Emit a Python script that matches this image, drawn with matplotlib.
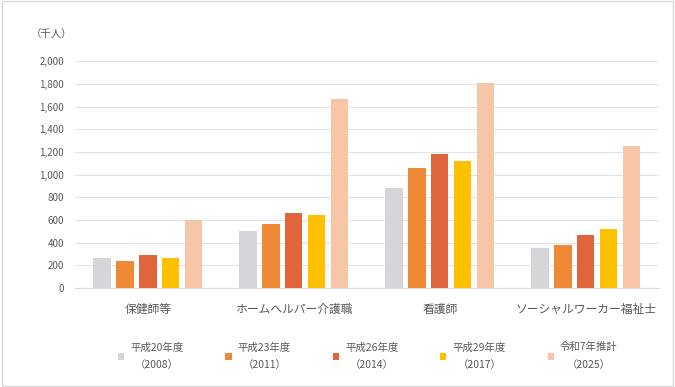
import matplotlib
matplotlib.use("Agg")
import matplotlib.pyplot as plt
import numpy as np
from matplotlib.patches import Rectangle
from matplotlib.ticker import FuncFormatter

plt.rcParams['font.family'] = ['Noto Sans CJK JP', 'DejaVu Sans']

categories = ["保健師等", "ホームヘルパー介護職", "看護師", "ソーシャルワーカー福祉士"]
series_labels = ["平成20年度\n（2008）", "平成23年度\n（2011）", "平成26年度\n（2014）",
                 "平成29年度\n（2017）", "令和7年推計\n（2025）"]
s2008 = [265, 500, 880, 350]
s2011 = [235, 560, 1060, 380]
s2014 = [290, 660, 1180, 465]
s2017 = [268, 640, 1115, 520]
s2025 = [600, 1665, 1805, 1250]
series_values = [s2008, s2011, s2014, s2017, s2025]
colors = ["#D6D5DA", "#EE8A35", "#E0643C", "#FFC000", "#F6C6A6"]
yticks = [0, 200, 400, 600, 800, 1000, 1200, 1400, 1600, 1800, 2000]

fig = plt.figure(figsize=(6.75, 3.87), dpi=100)
ax = fig.add_axes([0.111, 0.256, 0.865, 0.586])

x = np.arange(len(categories))
step = 0.157
width = 0.118
handles = []
for i, (vals, col, lab) in enumerate(zip(series_values, colors, series_labels)):
    b = ax.bar(x + (i - 2) * step, vals, width=width, color=col, label=lab, zorder=3)
    handles.append(b)

ax.set_xlim(-0.5, len(categories) - 0.5)
ax.set_ylim(0, 2000)
ax.set_yticks(yticks)
ax.yaxis.set_major_formatter(FuncFormatter(lambda v, p: f"{int(v):,}"))
ax.set_xticks(x)
ax.set_xticklabels(categories, fontsize=8.5, color="#595959")
ax.tick_params(axis='y', labelsize=7, colors="#595959", length=0, pad=8)
ax.tick_params(axis='x', length=0, pad=11)
ax.grid(axis='y', color="#E3E3E3", linewidth=0.8, zorder=0)
for s in ["top", "right", "left"]:
    ax.spines[s].set_visible(False)
ax.spines["bottom"].set_color("#D9D9D9")

fig.text(0.045, 0.91, "（千人）", fontsize=7.5, color="#595959", ha="left", va="center")

leg = fig.legend(handles=handles, labels=series_labels, loc="center",
                 bbox_to_anchor=(0.545, 0.08), ncol=5, frameon=False,
                 fontsize=7.5, handlelength=0.6, handleheight=0.6,
                 columnspacing=4.0, handletextpad=0.6)
for t in leg.get_texts():
    t.set_color("#595959")
    t.set_multialignment("center")
    t.set_linespacing(1.9)

fig.patches.append(Rectangle((0.003, 0.003), 0.994, 0.994, transform=fig.transFigure,
                             fill=False, edgecolor="#D9D9D9", linewidth=1))

fig.savefig("out.png", dpi=100)
